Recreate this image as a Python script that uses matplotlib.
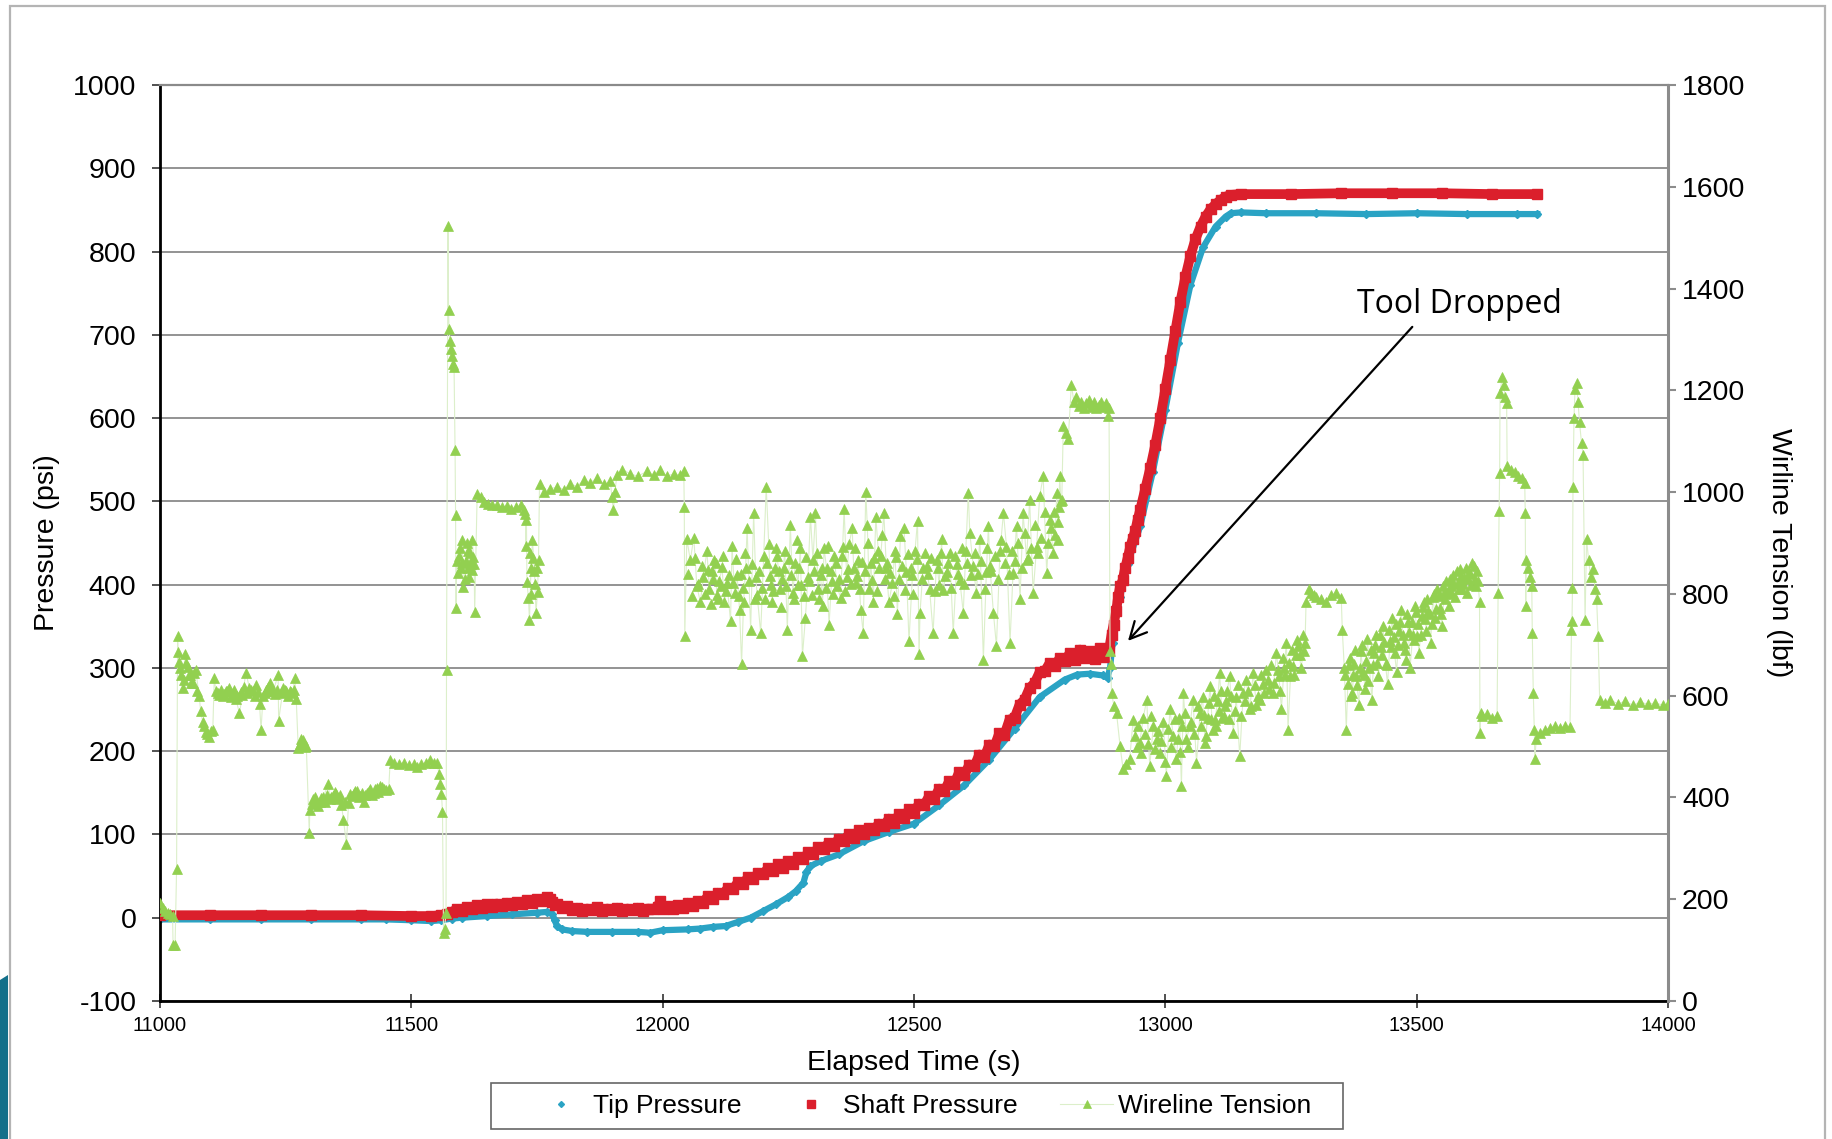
import matplotlib
matplotlib.use('Agg')
import matplotlib.pyplot as plt
from matplotlib.patches import Rectangle, Polygon

# ---------------- data ----------------
tip_time = [11000, 11100, 11200, 11300, 11400, 11450, 11500, 11540, 11560, 11580, 11600, 11650,
            11700, 11750, 11770, 11780, 11785, 11790, 11800, 11820, 11850, 11900, 11950, 11975,
            12000, 12050, 12075, 12100, 12125, 12150, 12175, 12200, 12225, 12250, 12265, 12280,
            12286, 12294, 12314, 12350, 12400, 12450, 12500, 12550, 12600, 12650, 12700, 12750,
            12800, 12825, 12850, 12875, 12885, 12890, 12895, 12900, 12910, 12925, 12950, 12975,
            13000, 13025, 13050, 13075, 13100, 13120, 13130, 13150, 13200, 13300, 13400, 13500,
            13600, 13700, 13740]
tip_psi = [-2, -2, -2, -2, -2, -2, -3, -4, -3, -1, 0, 2,
           4, 6, 7, 5, -3, -10, -14, -16, -17, -17, -17, -18,
           -15, -14, -13, -11, -10, -5, 0, 8, 16, 25, 32, 42,
           55, 62, 68, 76, 92, 103, 113, 135, 159, 190, 227, 265,
           286, 292, 293, 291, 288, 300, 330, 355, 385, 425, 470, 535,
           610, 690, 760, 805, 830, 842, 846, 847, 846, 846, 845, 846,
           845, 845, 845]

shaft_time = [11000, 11100, 11200, 11300, 11400, 11500, 11540,
              11560, 11570, 11580, 11590, 11600, 11610, 11620, 11630, 11640, 11650, 11660, 11670,
              11680, 11690, 11700, 11710, 11720, 11730, 11740, 11750, 11760, 11770, 11775, 11780,
              11785, 11790, 11800, 11810, 11820, 11830, 11840, 11850, 11860, 11870, 11880, 11890,
              11900, 11910, 11920, 11930, 11940, 11950, 11960, 11970, 11980, 11990, 11995, 12000,
              12010, 12020, 12030, 12040, 12050, 12060, 12070, 12080, 12090, 12100, 12110, 12120,
              12130, 12140, 12150, 12160, 12170, 12180, 12190, 12200, 12210, 12220, 12230, 12240,
              12250, 12260, 12270, 12280, 12290, 12300, 12310, 12320, 12330, 12340, 12350, 12360,
              12370, 12380, 12390, 12400, 12410, 12420, 12430, 12440, 12450, 12460, 12470, 12480,
              12490, 12500, 12510, 12520, 12530, 12540, 12550, 12560, 12570, 12580, 12590, 12600,
              12610, 12620, 12630, 12640, 12650, 12660, 12670, 12680, 12690, 12700, 12710, 12720,
              12730, 12740, 12750, 12760, 12770, 12780, 12790, 12800, 12810, 12820, 12830, 12840,
              12850, 12860, 12870, 12880, 12888, 12893, 12897, 12902, 12906, 12910, 12915, 12920,
              12925, 12930, 12935, 12940, 12945, 12950, 12960, 12970, 12980, 12990, 13000, 13010,
              13020, 13030, 13040, 13050, 13060, 13070, 13080, 13090, 13100, 13110, 13120, 13130,
              13150, 13250, 13350, 13450, 13550, 13650, 13740]
shaft_psi = [3, 3, 3, 3, 3, 2, 2,
             3, 5, 7, 10, 8, 13, 11, 15, 12, 16, 13, 17,
             14, 18, 15, 19, 16, 21, 18, 22, 20, 25, 22, 19,
             15, 16, 12, 14, 9, 12, 8, 11, 9, 13, 8, 11,
             9, 12, 8, 11, 9, 12, 8, 11, 10, 13, 20, 11,
             14, 10, 15, 12, 18, 14, 20, 18, 26, 22, 30, 28,
             36, 34, 43, 40, 49, 46, 54, 52, 60, 56, 64, 60,
             68, 65, 73, 70, 79, 76, 85, 82, 90, 86, 95, 92,
             100, 96, 105, 100, 108, 105, 113, 110, 119, 114, 124, 120,
             130, 126, 137, 135, 146, 143, 155, 152, 164, 161, 175, 171,
             184, 182, 196, 193, 208, 206, 222, 220, 238, 240, 256, 262,
             276, 282, 295, 296, 306, 302, 312, 308, 318, 310, 322, 312,
             320, 311, 324, 313, 322, 340, 352, 368, 385, 398, 405, 420,
             432, 445, 455, 465, 478, 490, 515, 540, 568, 600, 635, 670,
             705, 740, 770, 795, 815, 830, 842, 851, 857, 862, 866, 868,
             869, 869, 870, 870, 870, 869, 869]

tension_time = [
    11000, 11005, 11010, 11015, 11020, 11025, 11026, 11030, 11033, 11035, 11036, 11038, 11041, 11045,
    11050, 11055, 11060, 11065, 11071, 11078, 11081, 11085, 11091, 11098, 11105, 11108, 11111, 11118,
    11125, 11131, 11138, 11145, 11151, 11158, 11164, 11171, 11178, 11185, 11191, 11198, 11201, 11205,
    11211, 11218, 11225, 11235, 11236, 11245, 11251, 11258, 11264, 11268, 11271, 11275, 11281, 11286,
    11291, 11297, 11298, 11305, 11311, 11318, 11325, 11335, 11338, 11345, 11351, 11356, 11361, 11365,
    11371, 11375, 11378, 11385, 11391, 11398, 11405, 11411, 11418, 11425, 11431, 11438, 11445, 11455,
    11458, 11465, 11475, 11485, 11495, 11505, 11511, 11520, 11530, 11538, 11545, 11551, 11555, 11558,
    11560, 11562, 11564, 11566, 11569, 11570, 11573, 11574, 11575, 11577, 11578, 11580, 11583, 11585,
    11587, 11588, 11589, 11590, 11595, 11598, 11601, 11603, 11608, 11612, 11615, 11618, 11621, 11625,
    11626, 11631, 11638, 11645, 11652, 11660, 11671, 11680, 11690, 11698, 11708, 11718, 11725, 11727,
    11728, 11729, 11730, 11733, 11735, 11738, 11741, 11745, 11748, 11751, 11753, 11755,
    11763, 11775, 11790, 11803, 11816, 11830, 11843, 11856, 11869, 11883, 11896, 11899, 11902, 11905,
    11909, 11920, 11936, 11950, 11969, 11982, 11995, 12008, 12022, 12035, 12042, 12043, 12044, 12048,
    12055, 12062, 12068, 12075, 12081, 12088, 12093, 12098, 12103, 12108, 12113, 12118, 12123, 12128,
    12135, 12138, 12143, 12148, 12153, 12157, 12161, 12165, 12168, 12175, 12181, 12185, 12188, 12195,
    12201, 12206, 12211, 12215, 12218, 12223, 12228, 12233, 12238, 12243, 12248, 12254, 12259, 12264,
    12269, 12274, 12278, 12284, 12289, 12294, 12299, 12304, 12309, 12314, 12318, 12321, 12326, 12331,
    12336, 12341, 12347, 12354, 12358, 12361, 12366, 12371, 12377, 12380, 12384, 12389, 12394, 12399,
    12404, 12407, 12411, 12414, 12419, 12424, 12429, 12434, 12440, 12445, 12450, 12457, 12462, 12467,
    12473, 12480, 12485, 12490, 12497, 12502, 12507, 12510,
    12512, 12518, 12525, 12531, 12538, 12545, 12550, 12555, 12558, 12565, 12571, 12578, 12585, 12591,
    12598, 12603, 12608, 12611, 12618, 12624, 12631, 12638, 12644, 12648, 12651, 12658, 12664, 12671,
    12678, 12684, 12691, 12697, 12704, 12711, 12717, 12724, 12730, 12737, 12744, 12750, 12757, 12764,
    12770, 12777, 12781, 12784, 12787, 12790, 12792, 12794, 12797, 12803, 12807, 12813, 12818, 12823,
    12828, 12833, 12838, 12843, 12848, 12853, 12858, 12863, 12868, 12873, 12878, 12882, 12885, 12888,
    12890, 12891, 12893, 12898, 12903, 12910, 12916, 12922, 12929,
    12936, 12943, 12949, 12956, 12963, 12969, 12976, 12983, 12989, 12996, 13002, 13009, 13016, 13022,
    13028, 13032, 13036, 13042, 13049, 13055, 13062, 13069, 13074, 13079, 13084, 13089, 13094, 13099,
    13104, 13108, 13113, 13118, 13123, 13128, 13135, 13141, 13148, 13155, 13161, 13168, 13175, 13181,
    13188, 13194, 13201, 13207, 13214, 13221, 13226, 13231, 13236, 13241, 13244, 13249, 13254, 13259,
    13264, 13270, 13275, 13278,
    13280, 13285, 13290, 13295, 13300, 13310, 13320, 13330, 13340, 13350, 13352,
    13356, 13360, 13363, 13367, 13372, 13376, 13380, 13385, 13389, 13393, 13398, 13402, 13406, 13411,
    13415, 13420, 13424, 13429, 13433, 13438, 13442, 13447, 13451, 13456, 13460, 13465, 13469, 13474,
    13478, 13483, 13487, 13492, 13496, 13501, 13505, 13510, 13514, 13519, 13523, 13528, 13532, 13537,
    13541, 13546, 13550, 13555, 13559, 13564, 13568, 13573, 13577, 13582, 13586, 13591, 13595, 13600,
    13605, 13609, 13614, 13618, 13622, 13625,
    13626, 13627, 13630, 13640, 13650, 13660, 13662, 13664, 13665, 13666, 13670, 13673, 13676, 13679,
    13680, 13688, 13695, 13702, 13710, 13715, 13716, 13717, 13718, 13722, 13726, 13729, 13730, 13732,
    13734, 13735, 13738, 13745, 13755, 13765, 13775, 13785, 13795, 13805, 13808, 13809, 13810, 13811,
    13813, 13815, 13818, 13821, 13824, 13828, 13831, 13835, 13838, 13842, 13846, 13851, 13855, 13858,
    13861, 13864, 13875, 13885, 13900, 13915, 13930, 13945, 13960, 13975, 13990, 14000]
tension_lbf = [
    193, 183, 177, 173, 170, 167, 111, 111, 259, 718, 686, 666, 640, 615,
    681, 656, 640, 625, 651, 599, 569, 548, 529, 519, 533, 635, 610, 602,
    599, 609, 615, 605, 594, 565, 602, 645, 615, 609, 620, 584, 533, 599,
    612, 625, 609, 640, 551, 615, 609, 610, 605, 635, 594, 497, 514, 507,
    502, 330, 376, 396, 393, 391, 401, 427, 396, 403, 406, 399, 386, 355,
    309, 389, 406, 409, 412, 403, 391, 409, 417, 409, 419, 422, 416, 417,
    473, 468, 466, 468, 463, 465, 460, 466, 468, 473, 468, 468, 447, 427,
    406, 371, 133, 142, 173, 651, 1522, 1357, 1320, 1296, 1281, 1268, 1252, 1245,
    1082, 956, 772, 864, 874, 851, 905, 813, 864, 884, 833, 859, 905, 859,
    764, 997, 990, 980, 977, 974, 975, 970, 972, 967, 970, 975, 965, 957,
    895, 946, 823, 792, 748, 851, 905, 844, 763, 803, 867, 1016,
    1001, 1006, 1010, 1005, 1016, 1011, 1024, 1018, 1028, 1015, 1021, 990, 964, 1001,
    1033, 1044, 1036, 1031, 1041, 1034, 1044, 1031, 1036, 1033, 1041, 970, 718, 907,
    867, 910, 815, 784, 834, 884, 810, 844, 867, 798, 826, 852, 785, 821,
    746, 895, 802, 838, 769, 663, 784, 851, 929, 730, 959, 834, 798, 723,
    875, 1010, 898, 818, 784, 851, 875, 810, 830, 884, 730, 936, 802, 861,
    818, 890, 677, 753, 834, 952, 867, 959, 810, 838, 777, 890, 851, 738,
    826, 875, 815, 792, 892, 967, 834, 898, 929, 851, 821, 867, 769, 723,
    1001, 936, 810, 861, 785, 952, 884, 875, 959, 851, 784, 821, 884, 761,
    913, 929, 843, 707, 838, 884, 944, 681,
    763, 851, 854, 810, 723, 867, 818, 907, 808, 843, 880, 723, 859, 828,
    763, 884, 998, 920, 854, 802, 908, 671, 843, 933, 854, 763, 697, 884,
    959, 893, 704, 841, 933, 789, 959, 867, 985, 802, 893, 992, 1031, 841,
    946, 880, 916, 998, 941, 1031, 982, 985, 1129, 1116, 1105, 1211, 1178, 1186,
    1170, 1178, 1165, 1175, 1181, 1168, 1177, 1165, 1172, 1178, 1167, 1175, 1149, 1165,
    687, 663, 605, 579, 565, 501, 455, 466, 475,
    553, 499, 507, 556, 592, 461, 540, 515, 488, 548, 442, 573, 520, 475,
    556, 422, 605, 515, 540, 592, 468, 566, 597, 507, 556, 619, 532, 553,
    589, 645, 556, 579, 610, 638, 527, 597, 481, 605, 630, 573, 645, 581,
    592, 622, 651, 614, 605, 684, 638, 573, 655, 704, 533, 638, 658, 679,
    697, 655, 687, 704,
    785, 810, 802, 798, 794, 790, 785, 797, 802, 792, 730,
    655, 533, 622, 674, 605, 663, 638, 581, 687, 646, 614, 712, 655, 592,
    684, 720, 638, 695, 736, 663, 622, 707, 753, 684, 646, 728, 769, 704,
    671, 745, 655, 720, 777, 717, 684, 756, 785, 728, 766, 704, 794, 753,
    810, 772, 736, 802, 826, 777, 815, 838, 794, 821, 848, 810, 831, 802,
    843, 818, 854, 815, 826, 785,
    527, 566, 560, 563, 556, 560, 802, 962, 1037, 1195, 1227, 1211, 1186, 1175,
    1051, 1044, 1039, 1031, 1028, 1018, 959, 776, 867, 851, 834, 815, 723, 605,
    533, 475, 515, 527, 533, 537, 540, 537, 540, 538, 730, 746, 812, 1011,
    1145, 1203, 1214, 1178, 1137, 1096, 1073, 749, 907, 867, 834, 848, 810, 789,
    717, 592, 586, 592, 584, 589, 581, 587, 583, 586, 581, 583]

# further wireline-tension readings inside the dense clouds (same series, markers only)
tension_more_time = [
    11040, 11047, 11052, 11057, 11062, 11068, 11074, 11088, 11094, 11101, 11115, 11121, 11128, 11134,
    11141, 11148, 11154, 11161, 11168, 11174, 11181, 11188, 11195, 11208, 11214, 11221, 11228, 11232,
    11240, 11248, 11254, 11261, 11266, 11278, 11284, 11289,
    11302, 11308, 11315, 11321, 11328, 11332, 11341, 11348, 11353, 11359, 11368, 11381, 11388, 11395,
    11401, 11408, 11415, 11421, 11428, 11434, 11441, 11450,
    11592, 11597, 11600, 11606, 11610, 11613, 11617, 11620, 11623, 11736, 11739, 11743, 11746, 11750,
    12051, 12058, 12065, 12071, 12078, 12085, 12090, 12096, 12100, 12106, 12111, 12116, 12121, 12126,
    12131, 12140, 12146, 12151, 12155, 12159, 12163, 12171, 12178, 12183, 12191, 12198, 12203, 12208,
    12213, 12220, 12226, 12231, 12236, 12241, 12246, 12251, 12256, 12262, 12267, 12271, 12276, 12281,
    12286, 12292, 12297, 12302, 12307, 12312, 12316, 12324, 12329, 12334, 12339, 12344, 12350, 12356,
    12363, 12368, 12374, 12382, 12387, 12392, 12397, 12402, 12409, 12416, 12421, 12426, 12431, 12437,
    12442, 12447, 12453, 12460, 12465, 12470, 12477, 12482, 12488, 12494, 12499, 12505, 12515, 12521,
    12528, 12534, 12541, 12548, 12553, 12561, 12568, 12574, 12581, 12588, 12595, 12600, 12606, 12614,
    12621, 12627, 12634, 12641, 12646, 12654, 12661, 12667, 12674, 12681, 12688, 12694, 12700, 12707,
    12714, 12720, 12727, 12733, 12740, 12747, 12753, 12760, 12767, 12773, 12779, 12786, 12789,
    12939, 12946, 12952, 12959, 12966, 12972, 12979, 12986, 12992, 12999, 13005, 13012, 13019, 13025,
    13030, 13034, 13039, 13045, 13052, 13058, 13065, 13071, 13077, 13081, 13087, 13091, 13097, 13101,
    13106, 13111, 13116, 13121, 13126, 13131, 13138, 13144, 13151, 13158, 13164, 13171, 13178, 13184,
    13191, 13197, 13204, 13211, 13217, 13224, 13229, 13234, 13239, 13246, 13251, 13256, 13262, 13267,
    13273,
    13358, 13365, 13369, 13374, 13378, 13382, 13387, 13391, 13396, 13400, 13404, 13409, 13413, 13418,
    13422, 13427, 13431, 13436, 13440, 13445, 13449, 13454, 13458, 13463, 13467, 13472, 13476, 13481,
    13485, 13490, 13494, 13499, 13503, 13508, 13512, 13517, 13521, 13526, 13530, 13535, 13539, 13544,
    13548, 13553, 13557, 13562, 13566, 13571, 13575, 13580, 13584, 13589, 13593, 13598, 13602, 13607,
    13611, 13616, 13620]
tension_more_lbf = [
    655, 630, 665, 640, 625, 645, 610, 540, 525, 530, 605, 612, 603, 610,
    598, 612, 600, 608, 618, 605, 612, 600, 607, 605, 618, 610, 604, 612,
    606, 612, 600, 608, 612, 505, 512, 500,
    388, 400, 384, 398, 392, 405, 400, 410, 396, 404, 392, 402, 412, 400,
    408, 404, 412, 404, 416, 410, 420, 414,
    842, 890, 860, 830, 900, 850, 880, 846, 872, 880, 800, 870, 820, 850,
    840, 795, 870, 820, 855, 800, 846, 780, 830, 860, 790, 815, 875, 805,
    838, 822, 868, 796, 840, 812, 880, 825, 858, 790, 845, 812, 790, 860,
    835, 805, 890, 845, 775, 850, 815, 868, 838, 790, 905, 850, 818, 795,
    872, 826, 798, 845, 880, 790, 850, 812, 895, 845, 800, 860, 830, 875,
    805, 848, 820, 890, 835, 810, 862, 845, 900, 828, 870, 805, 850, 915,
    830, 860, 842, 795, 872, 830, 855, 808, 878, 850, 800, 868, 830, 880,
    840, 870, 805, 850, 880, 835, 860, 812, 875, 840, 890, 820, 860, 838,
    880, 840, 865, 810, 890, 845, 875, 830, 905, 860, 840, 885, 865, 900,
    850, 920, 870, 890, 935, 880, 910, 960, 900, 930, 960, 905, 970,
    520, 540, 488, 525, 505, 560, 495, 530, 510, 470, 535, 500, 555, 515,
    490, 540, 565, 500, 548, 525, 580, 540, 562, 520, 585, 555, 600, 540,
    570, 610, 560, 590, 555, 600, 570, 620, 560, 590, 610, 580, 620, 600,
    640, 605, 630, 660, 625, 650, 610, 675, 640, 665, 690, 640, 710, 680,
    720,
    640, 660, 600, 640, 690, 620, 655, 700, 640, 668, 628, 690, 660, 700,
    665, 720, 680, 705, 660, 730, 695, 715, 740, 700, 745, 720, 690, 760,
    725, 745, 710, 765, 740, 720, 775, 750, 790, 760, 740, 800, 770, 795,
    760, 815, 790, 805, 830, 800, 820, 845, 810, 835, 820, 850, 830, 840,
    860, 830, 845]

x_ticks = [11000, 11500, 12000, 12500, 13000, 13500, 14000]
psi_ticks = [-100, 0, 100, 200, 300, 400, 500, 600, 700, 800, 900, 1000]
lbf_ticks = [0, 200, 400, 600, 800, 1000, 1200, 1400, 1600, 1800]

# ---------------- style ----------------
TIP_C = '#2aa3c4'
SHAFT_C = '#db1f2c'
TEN_C = '#92d050'
TEN_LINE_C = '#dcefca'

plt.rcParams['font.family'] = ['Liberation Sans', 'DejaVu Sans']

W, H = 1833, 1139
fig = plt.figure(figsize=(W / 100, H / 100), dpi=100)
fig.patch.set_facecolor('white')

# outer frame and slide decoration
fig.add_artist(Rectangle((9.5 / W, -0.05), (1825 - 9.5) / W, 1.05 - 5.5 / H,
                         transform=fig.transFigure, fill=False,
                         edgecolor='#b4b4b4', lw=1.6))
fig.add_artist(Polygon([(0, 0), (8 / W, 0), (8 / W, 1 - 975 / H), (0, 1 - 980 / H)],
                       closed=True, transform=fig.transFigure,
                       facecolor='#13708a', edgecolor='none'))

L, R, T, B = 160, 1668, 85, 1001
ax = fig.add_axes([L / W, 1 - B / H, (R - L) / W, (B - T) / H])
ax2 = ax.twinx()

# pressure bands
ax.plot(shaft_time, shaft_psi, color=SHAFT_C, lw=7.0, solid_capstyle='butt', zorder=3)
ax.plot(shaft_time, shaft_psi, ls='none', marker='s', ms=7.5, color=SHAFT_C, mec=SHAFT_C,
        label='Shaft Pressure', zorder=3)
ax.plot(tip_time, tip_psi, color=TIP_C, lw=4.5, zorder=2)
ax.plot(tip_time, tip_psi, ls='none', marker='D', ms=4, color=TIP_C, mec=TIP_C,
        label='Tip Pressure', zorder=2)

# tension
ax2.plot(tension_time, tension_lbf, color=TEN_LINE_C, lw=0.8, marker='^', ms=7,
         mfc=TEN_C, mec=TEN_C, mew=0.5, label='Wireline Tension', zorder=4)
ax2.plot(tension_more_time, tension_more_lbf, ls='none', marker='^', ms=7,
         mfc=TEN_C, mec=TEN_C, mew=0.5, zorder=4)

# axes limits & ticks
ax.set_xlim(11000, 14000)
ax.set_ylim(-100, 1000)
ax2.set_ylim(0, 1800)
ax.set_xticks(x_ticks)
ax.set_yticks(psi_ticks)
ax2.set_yticks(lbf_ticks)
ax.set_xticklabels([str(v) for v in x_ticks], fontsize=14.5)
ax.set_yticklabels([str(v) for v in psi_ticks], fontsize=20.5)
ax2.set_yticklabels([str(v) for v in lbf_ticks], fontsize=20.5)

ax.tick_params(axis='y', direction='out', length=6, width=1.2, color='#333333', pad=11)
ax.tick_params(axis='x', direction='inout', length=10, width=1.2, color='#333333', pad=6)
ax2.tick_params(axis='y', direction='out', length=6, width=1.5, color='#8c8c8c', pad=4)

ax.yaxis.grid(True, color='#8a8a8a', lw=1.3)
ax.set_axisbelow(True)

for s in ['left', 'bottom']:
    ax.spines[s].set_color('black')
    ax.spines[s].set_linewidth(2.0)
ax.spines['top'].set_color('#8a8a8a')
ax.spines['top'].set_linewidth(1.6)
ax.spines['right'].set_visible(False)
for s in ['left', 'top', 'bottom']:
    ax2.spines[s].set_visible(False)
ax2.spines['right'].set_color('#8c8c8c')
ax2.spines['right'].set_linewidth(2.2)

ax.set_xlabel('Elapsed Time (s)', fontsize=20.5)
ax.xaxis.set_label_coords(0.5, -0.054)
ax.set_ylabel('Pressure (psi)', fontsize=20.5)
ax.yaxis.set_label_coords(-0.066, 0.5)
ax2.set_ylabel('Wirline Tension (lbf)', fontsize=20.5, rotation=270, va='center')
ax2.yaxis.set_label_coords(1.0736, 0.49)

# annotation
ax.text(13586, 737, 'Tool Dropped', fontsize=23, family=['Open Sans', 'DejaVu Sans'],
        ha='center', va='center', zorder=6)
ax.annotate('', xy=(12922, 330), xytext=(13495, 712),
            arrowprops=dict(arrowstyle='->', color='black', lw=1.6, mutation_scale=30),
            zorder=6)

# legend (frameless, with a separate box)
h1, l1 = ax.get_legend_handles_labels()
h2, l2 = ax2.get_legend_handles_labels()
order = [1, 0]
handles = [h1[i] for i in order] + h2
labels = [l1[i] for i in order] + l2
leg = fig.legend(handles, labels, loc='center left', bbox_to_anchor=(535 / W, 1 - 1106 / H),
                 ncol=3, fontsize=19, frameon=False,
                 handlelength=2.0, handletextpad=0.2, columnspacing=1.63, borderpad=0.0,
                 borderaxespad=0.0, markerscale=0.75)
fig.add_artist(Rectangle((491 / W, 1 - 1129 / H), 852 / W, 46 / H, transform=fig.transFigure,
                         fill=False, edgecolor='#666666', lw=1.2))

fig.savefig('out.png', dpi=100, facecolor='white')
